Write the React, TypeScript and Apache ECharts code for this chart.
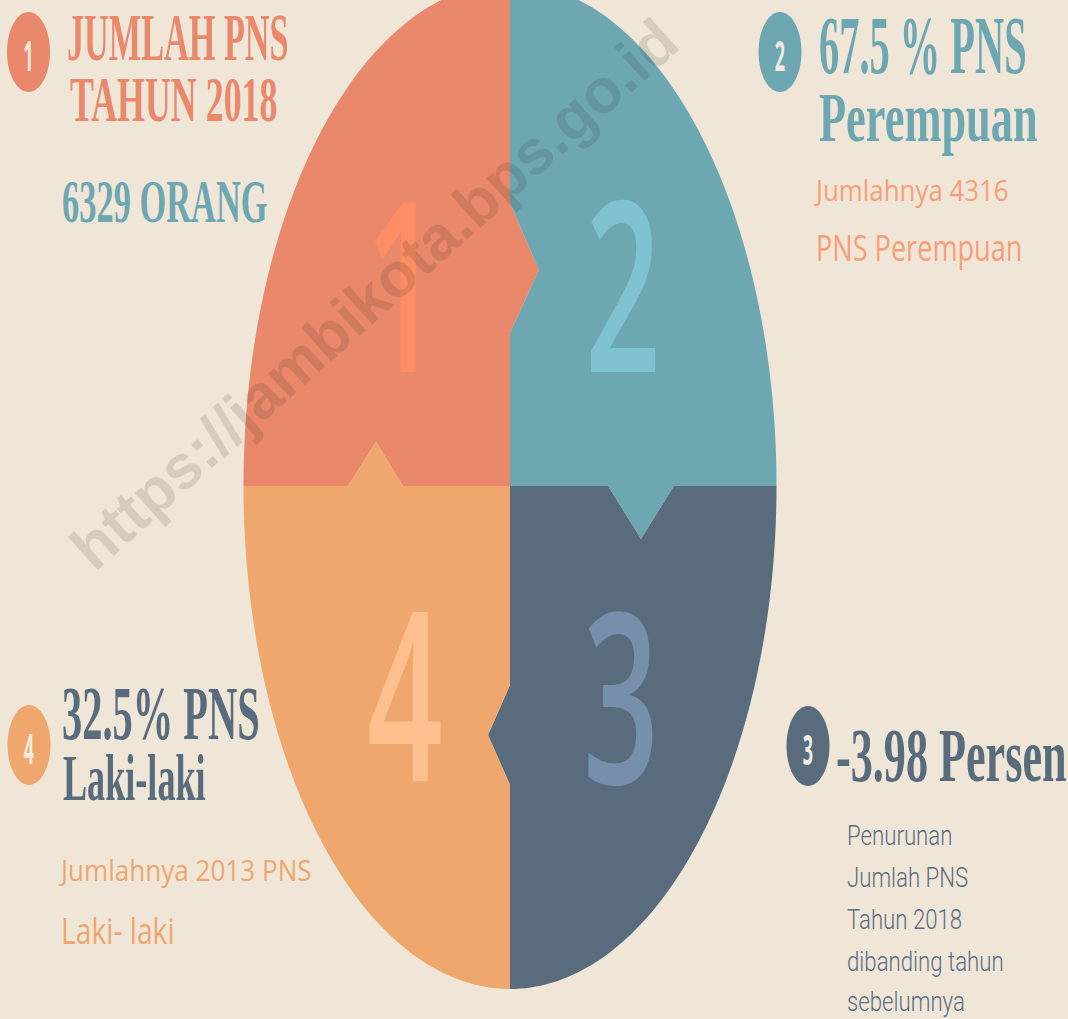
import React, { useEffect, useRef } from 'react';
import * as echarts from 'echarts';

// ---- data ----
const year = 2018;
const totalPNS = 6329;
const groups = ['Perempuan', 'Laki-laki'];
const groupCounts = [4316, 2013];
const groupShares = [67.5, 32.5];
const changePercent = -3.98;
const quadrantNumbers = ['1', '2', '3', '4'];
const descLines = ['Penurunan', 'Jumlah PNS', `Tahun ${year}`, 'dibanding tahun', 'sebelumnya'];
const watermark = 'https://jambikota.bps.go.id';

// ---- style ----
const W = 1068;
const H = 1019;
const BG = '#F0E6D8';
const QUAD_COLORS = ['#E9886A', '#6DA8B2', '#586C7E', '#EFA76D'];
const DIGIT_COLORS = ['#FD8D65', '#80C3D0', '#7690AB', '#FEC08E'];
const BADGE_TEXT = '#F3EBDF';
const SERIF = 'Liberation Serif';
const SANS = 'Open Sans';
const DIGIT_FONT = 'Open Sans';

let ctx: CanvasRenderingContext2D | null = null;
function measure(text: string, family: string, weight: string, size: number) {
  if (!ctx) ctx = document.createElement('canvas').getContext('2d');
  const c = ctx as CanvasRenderingContext2D;
  c.font = `${weight} ${size}px "${family}"`;
  c.textBaseline = 'middle';
  c.textAlign = 'left';
  return c.measureText(text);
}

type Spec = {
  text: string; family: string; weight: string; color: string;
  left?: number; right?: number; cx?: number; top: number; bottom: number;
  ref?: string; size?: number; adv?: boolean; dy?: number;
};

function fitSize(s: Spec) {
  if (s.size) return s.size;
  const mm = measure(s.text, s.family, s.weight, 100);
  const ink = mm.actualBoundingBoxLeft + mm.actualBoundingBoxRight;
  return (100 * ((s.right as number) - (s.left as number))) / ink;
}

function textEl(s: Spec, z = 10) {
  const size = fitSize(s);
  const t = measure(s.text, s.family, s.weight, size);
  const r = measure(s.ref ?? 'H', s.family, s.weight, size);
  const capH = r.actualBoundingBoxAscent + r.actualBoundingBoxDescent;
  const k = (s.bottom - s.top) / capH;
  const y = s.bottom - k * r.actualBoundingBoxDescent + (s.dy ?? 0);
  const center = s.cx !== undefined;
  const x = center ? (s.cx as number) : (s.left as number) + (s.adv ? 0 : t.actualBoundingBoxLeft);
  const align = center ? 'center' : 'left';
  return {
    type: 'text', x, y, scaleY: k, z, silent: true,
    style: {
      text: s.text, fill: s.color, fontSize: size, fontFamily: s.family, fontWeight: s.weight,
      align, verticalAlign: 'middle', textAlign: align, textVerticalAlign: 'middle',
    },
  };
}

// ---- ellipse geometry ----
const CX = 510, CY = 486, RX = 266.5, RY = 503;
function arc(a0: number, a1: number, n = 80) {
  const pts: number[][] = [];
  for (let i = 0; i <= n; i++) {
    const a = a0 + ((a1 - a0) * i) / n;
    pts.push([CX + RX * Math.cos(a), CY + RY * Math.sin(a)]);
  }
  return pts;
}
const P = Math.PI;
const notch12 = [[510, 203], [539, 270], [510, 333]];
const notch14 = [[403, CY], [376, 442], [348, CY]];
const notch23 = [[674, CY], [641, 539], [608, CY]];
const notch34 = [[510, 785], [488, 735], [510, 685]];
const rev = (a: number[][]) => a.slice().reverse();

const quadPolys = [
  [...arc(P, 1.5 * P), ...notch12, [510, CY], ...notch14],
  [...arc(1.5 * P, 2 * P), ...notch23, [510, CY], ...rev(notch12)],
  [...arc(0, 0.5 * P), ...notch34, [510, CY], ...rev(notch23)],
  [...arc(0.5 * P, P), ...rev(notch14), [510, CY], ...rev(notch34)],
];

function buildElements() {
  const els: any[] = [];
  quadPolys.forEach((pts, i) => {
    els.push({ type: 'polygon', z: 1, silent: true, shape: { points: pts }, style: { fill: QUAD_COLORS[i] } });
  });

  // big quadrant digits
  const DW = '600';
  const ref = { text: quadrantNumbers[1], family: DIGIT_FONT, weight: DW, color: '', left: 590, right: 655, top: 198, bottom: 370 };
  const dSize = fitSize(ref as Spec);
  const digitPos = [[374, 198, 370], [590, 198, 370], [588, 610, 782], [369, 610, 780]];
  quadrantNumbers.forEach((d, i) => {
    els.push(textEl({
      text: d, family: DIGIT_FONT, weight: DW, color: DIGIT_COLORS[i], size: dSize,
      left: digitPos[i][0], top: digitPos[i][1], bottom: digitPos[i][2], ref: '2', dy: -23,
    }, 5));
  });

  // badges
  const badges = [[28.5, 52], [780, 52], [808, 746], [29, 745]];
  const badgeNums = ['1', '2', '3', '4'];
  badges.forEach(([bx, by], i) => {
    els.push({ type: 'ellipse', z: 5, silent: true, shape: { cx: bx, cy: by, rx: 21.5, ry: 40 }, style: { fill: QUAD_COLORS[i] } });
    els.push(textEl({
      text: badgeNums[i], family: SANS, weight: 'bold', color: BADGE_TEXT, size: 18,
      cx: bx, top: by - 15, bottom: by + 15, ref: badgeNums[i],
    }, 6));
  });

  // headline texts
  const specs: Spec[] = [
    { text: 'JUMLAH PNS', family: SERIF, weight: 'bold', color: QUAD_COLORS[0], left: 68, right: 287, top: 13, bottom: 57, dy: -2 },
    { text: `TAHUN ${year}`, family: SERIF, weight: 'bold', color: QUAD_COLORS[0], left: 70, right: 276, top: 75, bottom: 118, dy: -2 },
    { text: `${totalPNS} ORANG`, family: SERIF, weight: 'bold', color: QUAD_COLORS[1], left: 63, right: 267, top: 180, bottom: 219, dy: -2 },
    { text: `${groupShares[0]} % PNS`, family: SERIF, weight: 'bold', color: QUAD_COLORS[1], left: 820, right: 1025, top: 15, bottom: 68, dy: -2 },
    { text: groups[0], family: SERIF, weight: 'bold', color: QUAD_COLORS[1], left: 819, right: 1037, top: 92, bottom: 138, ref: 'P', dy: -2 },
    { text: `Jumlahnya ${groupCounts[0]}`, family: SANS, weight: 'normal', color: '#FA9D78', left: 816, right: 1010, top: 177, bottom: 203, ref: 'J', adv: true },
    { text: `PNS ${groups[0]}`, family: SANS, weight: 'normal', color: '#FA9D78', left: 816, right: 1018, top: 230, bottom: 257, ref: 'P', adv: true },
    { text: `${groupShares[1]}% PNS`, family: SERIF, weight: 'bold', color: QUAD_COLORS[2], left: 63, right: 258, top: 686, bottom: 735, dy: -2 },
    { text: groups[1], family: SERIF, weight: 'bold', color: QUAD_COLORS[2], left: 63, right: 205, top: 753, bottom: 797, ref: 'L', dy: -2 },
    { text: `Jumlahnya ${groupCounts[1]} PNS`, family: SANS, weight: 'normal', color: '#EFA66E', left: 61, right: 313, top: 857, bottom: 883, ref: 'J', adv: true },
    { text: 'Laki- laki', family: SANS, weight: 'normal', color: '#EFA66E', left: 61, right: 170, top: 913, bottom: 940, ref: 'L', adv: true },
    { text: `${changePercent} Persen`, family: SERIF, weight: 'bold', color: QUAD_COLORS[2], left: 837, right: 1066, top: 727, bottom: 777, ref: 'P', dy: -2 },
  ];
  specs.forEach((s) => els.push(textEl(s, 10)));

  // description lines with a common size
  const descSize = fitSize({ text: descLines[3], family: 'Roboto', weight: '300', color: '', left: 848, right: 1002, top: 0, bottom: 0 });
  const baselines = [843, 885, 927, 969, 1009];
  descLines.forEach((line, i) => {
    els.push(textEl({
      text: line, family: 'Roboto', weight: '300', color: '#5B6E80', size: descSize,
      left: 847, top: baselines[i] - 20, bottom: baselines[i], ref: 'P', adv: true,
    }, 10));
  });

  // watermark
  els.push({
    type: 'text', x: 374, y: 294, rotation: 0.73, z: 50, silent: true,
    style: {
      text: watermark, fill: 'rgba(25,15,10,0.12)', fontSize: 62, fontFamily: 'Liberation Sans', fontWeight: 'bold',
      align: 'center', verticalAlign: 'middle', textAlign: 'center', textVerticalAlign: 'middle',
    },
  });
  return els;
}

export default function App() {
  const ref = useRef<HTMLDivElement>(null);
  useEffect(() => {
    document.body.style.margin = '0';
    document.body.style.background = BG;
    const chart = echarts.init(ref.current as HTMLDivElement, undefined, { renderer: 'svg' });
    chart.setOption({
      animation: false,
      backgroundColor: BG,
      graphic: { elements: buildElements() },
    });
    return () => chart.dispose();
  }, []);
  return <div ref={ref} style={{ width: W, height: H }} />;
}
